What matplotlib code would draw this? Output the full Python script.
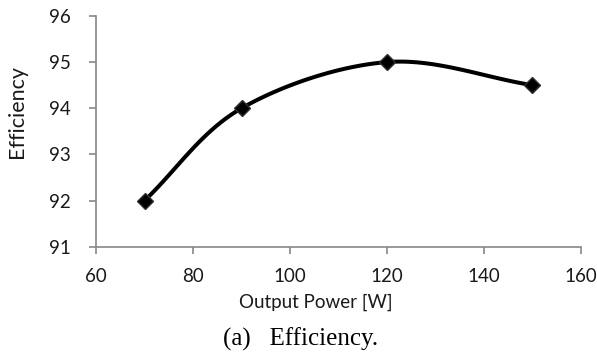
import numpy as np
import matplotlib.pyplot as plt

# data
power = [70, 90, 120, 150]
efficiency = [92, 94, 95, 94.5]
x_ticks = [60, 80, 100, 120, 140, 160]
y_ticks = [91, 92, 93, 94, 95, 96]


def smooth(xs, ys, sx, sy, n=40):
    # Excel-style smoothed line (Bezier, tension 1/6) in scaled space
    p = np.column_stack([np.asarray(xs, float) * sx, np.asarray(ys, float) * sy])
    p = np.vstack([2 * p[0] - p[1], p, 2 * p[-1] - p[-2]])
    out = []
    t = np.linspace(0, 1, n)[:, None]
    for i in range(1, len(p) - 2):
        p0, p3 = p[i], p[i + 1]
        c1 = p0 + (p[i + 1] - p[i - 1]) / 6
        c2 = p3 - (p[i + 2] - p[i]) / 6
        seg = ((1 - t) ** 3) * p0 + 3 * ((1 - t) ** 2) * t * c1 + 3 * (1 - t) * t ** 2 * c2 + t ** 3 * p3
        out.append(seg)
    out = np.vstack(out)
    return out[:, 0] / sx, out[:, 1] / sy


fig = plt.figure(figsize=(5.97, 3.54), dpi=100)
ax = fig.add_axes([0.161, 0.303, 0.812, 0.652])

# scale so smoothing works in roughly screen proportions
sx = 485 / 100.0
sy = 230 / 5.0
cx, cy = smooth(power, efficiency, sx, sy)
ax.plot(cx, cy, color="black", lw=2.9, solid_capstyle="round", zorder=2)
ax.plot(power, efficiency, linestyle="none", marker="D", ms=8.5,
        color="black", mec="#303030", zorder=3)

ax.set_xlim(60, 160)
ax.set_ylim(91, 96)
ax.set_xticks(x_ticks)
ax.set_yticks(y_ticks)

grey = "#878787"
for s in ["top", "right"]:
    ax.spines[s].set_visible(False)
for s in ["left", "bottom"]:
    ax.spines[s].set_color(grey)
    ax.spines[s].set_linewidth(1.2)
ax.tick_params(direction="out", length=5, width=1.2, color=grey,
               labelsize=13.5, labelcolor="#1a1a1a")
ax.tick_params(axis="x", pad=10)
ax.tick_params(axis="y", pad=13)
for lab in ax.get_xticklabels() + ax.get_yticklabels():
    lab.set_family("Lato")

fig.text(316 / 597, 1 - 302 / 354, "Output Power [W]", fontsize=13.5, family="Lato",
         color="#1a1a1a", ha="center", va="center")
fig.text(17 / 597, 1 - 111 / 354, "Efficiency", fontsize=15.5, family="Lato",
         color="#1a1a1a", ha="center", va="center", rotation=90)

fig.text(301 / 597, 1 - 339 / 354, "(a)   Efficiency.", fontsize=18, family="Liberation Serif",
         ha="center", va="center", color="black")

fig.savefig("out.png", dpi=100, facecolor="white")
